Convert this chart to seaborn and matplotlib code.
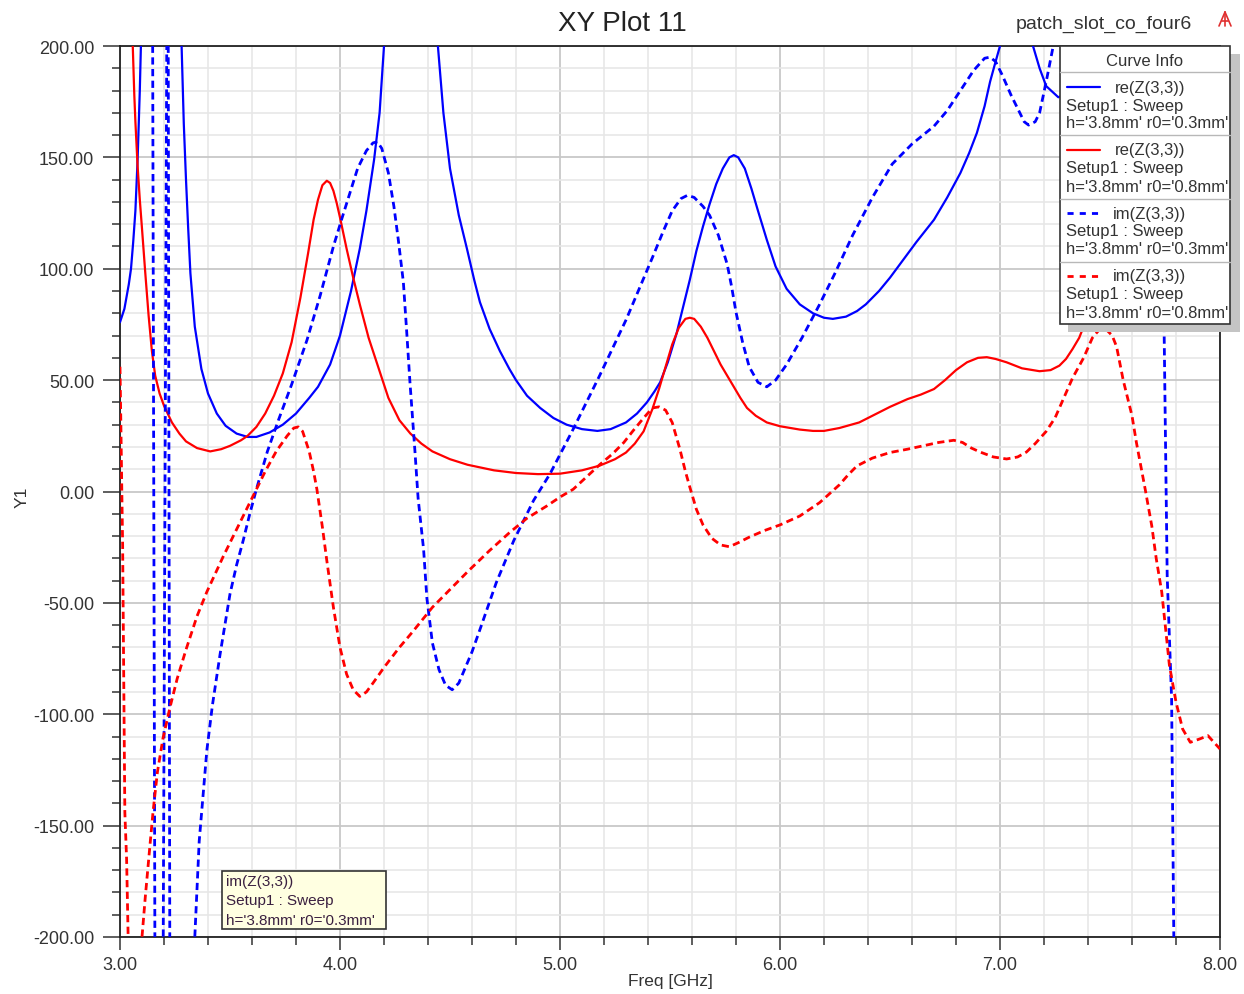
import matplotlib
matplotlib.use("Agg")
import matplotlib.pyplot as plt
from matplotlib.patches import Rectangle
from matplotlib.lines import Line2D
from matplotlib.ticker import MultipleLocator, FuncFormatter
import seaborn as sns
import pandas as pd

# ---- data: Z(3,3) real / imaginary parts vs frequency (GHz) ----
freq_re_03 = [3.00, 3.02, 3.04, 3.05, 3.06, 3.07, 3.08, 3.09, 3.095, 3.11, 3.19, 3.26,
              3.28, 3.29, 3.30, 3.31, 3.32, 3.34, 3.37, 3.40, 3.44, 3.48, 3.53, 3.58,
              3.62, 3.68, 3.74, 3.80, 3.86, 3.90, 3.955, 4.00, 4.05, 4.09, 4.12, 4.155,
              4.18, 4.20, 4.22, 4.30, 4.38, 4.42, 4.445, 4.47, 4.50, 4.54, 4.577, 4.61,
              4.636, 4.68, 4.727, 4.77, 4.80, 4.85, 4.91, 4.97, 5.03, 5.10, 5.17, 5.23,
              5.30, 5.35, 5.395, 5.43, 5.455, 5.49, 5.53, 5.56, 5.59, 5.62, 5.65, 5.68,
              5.71, 5.74, 5.77, 5.79, 5.81, 5.84, 5.87, 5.90, 5.94, 5.98, 6.03, 6.09,
              6.15, 6.20, 6.24, 6.30, 6.35, 6.39, 6.45, 6.50, 6.545, 6.62, 6.70, 6.76,
              6.82, 6.86, 6.895, 6.93, 6.955, 6.98, 7.00, 7.04, 7.11, 7.15, 7.18, 7.21,
              7.265, 7.35, 7.45, 7.60, 7.80, 8.00]
re_03 = [76, 82, 93, 100, 112, 126, 149, 180, 200, 260, 320, 260,
         200, 165, 140, 118, 98, 74, 55, 44, 35, 29.5, 26, 24.5,
         24.5, 26.5, 30, 35, 42, 47, 57, 70, 90, 109, 126, 149,
         170, 200, 260, 400, 400, 260, 200, 170, 145, 124, 109, 95,
         85, 73, 63, 55, 50, 43, 37.5, 33, 30, 28, 27.2, 28,
         31, 35, 40, 45, 49, 58, 71, 83, 95, 108, 119, 129,
         138, 145, 150, 151, 150, 145, 136, 126, 113, 101, 91, 84,
         80, 78, 77.5, 78.5, 81, 84, 90, 96, 102, 112, 122, 132,
         143, 152, 161, 173, 184, 193, 200, 240, 240, 200, 190, 182,
         177, 180, 200, 260, 350, 320]

freq_re_08 = [3.00, 3.058, 3.065, 3.07, 3.08, 3.09, 3.10, 3.115, 3.13, 3.145, 3.16, 3.18,
              3.20, 3.236, 3.27, 3.30, 3.35, 3.41, 3.46, 3.50, 3.55, 3.58, 3.62, 3.66,
              3.70, 3.74, 3.78, 3.82, 3.855, 3.88, 3.90, 3.92, 3.94, 3.955, 3.97, 3.985,
              4.00, 4.03, 4.06, 4.09, 4.13, 4.18, 4.22, 4.27, 4.32, 4.37, 4.42, 4.50,
              4.58, 4.70, 4.80, 4.90, 5.00, 5.10, 5.18, 5.25, 5.30, 5.34, 5.38, 5.42,
              5.45, 5.48, 5.51, 5.54, 5.57, 5.59, 5.61, 5.64, 5.67, 5.70, 5.73, 5.76,
              5.79, 5.82, 5.85, 5.89, 5.94, 6.00, 6.09, 6.15, 6.20, 6.27, 6.36, 6.42,
              6.50, 6.58, 6.64, 6.70, 6.75, 6.80, 6.85, 6.90, 6.94, 6.98, 7.03, 7.10,
              7.18, 7.23, 7.27, 7.30, 7.33, 7.36, 7.38, 7.45, 7.55, 7.65, 7.80, 8.00]
re_08 = [450, 200, 178, 166, 146, 131, 118, 98, 79, 63, 52, 44,
         38.5, 31, 26, 22.5, 19.5, 18, 19, 20.5, 23, 25, 29, 35,
         43, 53, 67, 87, 107, 122, 131, 137.5, 139.5, 138.5, 135, 129.5,
         123, 109, 96, 84, 69, 54, 42, 32, 26, 21.5, 18, 14.5,
         12, 9.5, 8.3, 7.8, 8, 9.5, 11.6, 14.5, 17.5, 21.5, 27, 37,
         46, 56, 66, 73.5, 77.5, 78, 77.5, 74, 69, 63, 57, 52,
         47, 42, 37.5, 34, 31, 29.3, 27.8, 27.2, 27.2, 28.5, 31, 34,
         38, 41.5, 43.5, 46, 50, 54.5, 58, 60, 60.3, 59.5, 58, 55.3,
         54, 54.5, 56.5, 59.5, 64, 69, 74, 110, 170, 260, 400, 300]

freq_im_03 = [3.00, 3.146, 3.161, 3.1925, 3.2165, 3.2175, 3.228, 3.31, 3.34, 3.36, 3.395,
              3.42, 3.455, 3.50, 3.53, 3.56, 3.59, 3.62, 3.67, 3.72, 3.78, 3.85, 3.91,
              3.97, 4.01, 4.045, 4.08, 4.12, 4.15, 4.17, 4.19, 4.22, 4.245, 4.265, 4.288,
              4.303, 4.318, 4.34, 4.355, 4.38, 4.395, 4.42, 4.45, 4.48, 4.51, 4.54, 4.57,
              4.60, 4.636, 4.71, 4.79, 4.88, 4.955, 5.06, 5.18, 5.30, 5.36, 5.42, 5.47,
              5.51, 5.55, 5.58, 5.61, 5.65, 5.68, 5.72, 5.76, 5.78, 5.80, 5.83, 5.86,
              5.90, 5.94, 5.98, 6.03, 6.10, 6.18, 6.25, 6.33, 6.42, 6.51, 6.60, 6.70,
              6.76, 6.82, 6.88, 6.93, 6.955, 6.98, 7.01, 7.05, 7.08, 7.11, 7.13, 7.16,
              7.18, 7.21, 7.24, 7.30, 7.50, 7.70, 7.745, 7.76, 7.78, 7.79, 7.81, 8.00]
im_03 = [300, 300, -300, -300, 300, 300, -300, -300, -200, -157, -116,
         -96, -73, -46, -33, -22, -10, 1, 18, 32, 48, 68, 88,
         110, 123, 134, 145, 153, 156.5, 157, 154, 143, 128, 113, 94,
         72, 49, 19, -3, -26, -48, -68, -80, -87, -89, -86, -79,
         -72, -62, -41, -22, -4, 8, 28, 52, 77, 91, 105, 117,
         126, 131.5, 133, 132, 128, 124, 115, 102, 92, 80.5, 67, 56,
         49, 47, 50, 57, 69, 84, 98, 115, 132, 147, 156, 164,
         171, 180, 189, 194.5, 195, 193, 187, 178, 172, 166, 164.5, 166,
         170, 184, 199, 260, 320, 200, 80, -38, -93, -200, -300, -300]

freq_im_08 = [3.00, 3.004, 3.008, 3.012, 3.022, 3.03, 3.037, 3.06, 3.09, 3.10, 3.115, 3.136,
              3.15, 3.17, 3.195, 3.227, 3.26, 3.30, 3.35, 3.395, 3.47, 3.545, 3.58, 3.62,
              3.66, 3.71, 3.76, 3.79, 3.81, 3.83, 3.86, 3.88, 3.895, 3.92, 3.94, 3.97,
              4.00, 4.03, 4.06, 4.09, 4.12, 4.15, 4.20, 4.27, 4.33, 4.42, 4.50, 4.58,
              4.68, 4.77, 4.85, 4.94, 5.00, 5.06, 5.12, 5.18, 5.24, 5.29, 5.33, 5.38,
              5.42, 5.45, 5.48, 5.51, 5.545, 5.57, 5.59, 5.62, 5.65, 5.69, 5.73, 5.77,
              5.81, 5.86, 5.93, 6.00, 6.09, 6.18, 6.27, 6.31, 6.35, 6.42, 6.50, 6.58,
              6.65, 6.72, 6.79, 6.83, 6.87, 6.91, 6.97, 7.03, 7.08, 7.12, 7.16, 7.21,
              7.25, 7.29, 7.33, 7.38, 7.42, 7.45, 7.48, 7.51, 7.53, 7.56, 7.60, 7.62,
              7.66, 7.69, 7.71, 7.735, 7.75, 7.77, 7.80, 7.83, 7.865, 7.91, 7.945, 8.00]
im_08 = [56, 30, 2, -24, -144, -165, -200, -260, -260, -200, -182, -159,
         -144, -126, -111, -97, -84, -71, -56, -45, -29, -14, -7, 1,
         9, 18, 25, 28.5, 29, 27, 18, 9, 1, -16, -31, -52,
         -70, -82, -89, -92, -90, -86, -79, -70, -63, -52, -44, -36,
         -26.5, -18.5, -12, -6.5, -2.5, 1, 6.5, 12, 17, 22, 27, 33,
         37.5, 38, 36.5, 31, 19, 9, 2, -8, -15, -21, -24, -24.8,
         -23, -20.5, -17.5, -15, -11, -5, 3, 7.5, 11.5, 15, 17.5, 19,
         20.5, 22, 23, 22, 19.5, 17.7, 15.5, 14.6, 15.5, 17.7, 21.5, 27,
         33, 42, 51, 60, 69, 72.5, 73, 70, 65, 50, 34, 22,
         1, -15.5, -30, -45, -59, -78, -94.5, -106.6, -112.6, -111, -109.6, -115.6]

series_names = ["re(Z(3,3))", "re(Z(3,3))", "im(Z(3,3))", "im(Z(3,3))"]
series_setup = "Setup1 : Sweep"
series_params = ["h='3.8mm' r0='0.3mm'", "h='3.8mm' r0='0.8mm'",
                 "h='3.8mm' r0='0.3mm'", "h='3.8mm' r0='0.8mm'"]
x_ticks = [3, 4, 5, 6, 7, 8]
y_ticks = [-200, -150, -100, -50, 0, 50, 100, 150, 200]

BLUE = "#0000ff"
RED = "#ff0000"
DASH = (0, (2.6, 1.6))

sns.set_style("white")
plt.rcParams["font.family"] = ["Liberation Sans", "DejaVu Sans"]

W, H = 1244, 995
fig = plt.figure(figsize=(W / 100, H / 100), dpi=100)
fig.patch.set_facecolor("white")


def fx(px):
    return px / W


def fy(py):
    return 1 - py / H


ax = fig.add_axes([fx(120), fy(938), fx(1220) - fx(120), fy(47) - fy(938)])

curves = [
    (freq_re_03, re_03, BLUE, "-", 1.6),
    (freq_re_08, re_08, RED, "-", 1.6),
    (freq_im_03, im_03, BLUE, DASH, 2.0),
    (freq_im_08, im_08, RED, DASH, 2.0),
]
for xs, ys, col, ls, lw in curves:
    df = pd.DataFrame({"freq": xs, "val": ys})
    sns.lineplot(data=df, x="freq", y="val", ax=ax, color=col, lw=lw,
                 estimator=None, sort=False, legend=False)
    ax.lines[-1].set_linestyle(ls)
    ax.lines[-1].set_zorder(3)
    ax.lines[-1].set_solid_joinstyle("round")
    ax.lines[-1].set_dash_joinstyle("round")

ax.set_xlim(3, 8)
ax.set_ylim(-200, 200)
ax.set_xticks(x_ticks)
ax.set_yticks(y_ticks)
ax.xaxis.set_minor_locator(MultipleLocator(0.2))
ax.yaxis.set_minor_locator(MultipleLocator(10))
fmt = FuncFormatter(lambda v, p: f"{v:.2f}".replace("\u2212", "-"))
ax.xaxis.set_major_formatter(fmt)
ax.yaxis.set_major_formatter(fmt)
ax.grid(which="major", color="#c8c8c8", lw=1.3, zorder=0)
ax.grid(which="minor", color="#e6e6e6", lw=1.1, zorder=0)
ax.set_axisbelow(True)
ax.tick_params(axis="both", which="both", direction="out", color="#333333",
               width=1.1, labelsize=13, labelcolor="#333333")
ax.tick_params(axis="y", which="major", length=12, pad=6.5, left=True)
ax.tick_params(axis="x", which="major", length=9, pad=5, bottom=True)
ax.tick_params(axis="both", which="minor", length=6, left=True, bottom=True)
for s in ax.spines.values():
    s.set_color("#222222")
    s.set_linewidth(1.3)
ax.set_xlabel("")
ax.set_ylabel("")

# titles and axis labels
fig.text(fx(622), fy(24), "XY Plot 11", ha="center", va="center", fontsize=20, color="#222222")
fig.text(fx(1192), fy(24), "patch_slot_co_four6", ha="right", va="center", fontsize=14,
         color="#333333")
fig.text(fx(670), fy(982), "Freq [GHz]", ha="center", va="center", fontsize=12.5, color="#333333")
fig.text(fx(22), fy(497), "Y1", ha="center", va="center", rotation=90, fontsize=12.5,
         color="#333333")

# small logo mark in the corner
for seg in [((1219, 27), (1225, 13)), ((1225, 13), (1231, 27)),
            ((1222, 22), (1228, 22)), ((1225, 13), (1225, 27))]:
    fig.add_artist(Line2D([fx(seg[0][0]), fx(seg[1][0])], [fy(seg[0][1]), fy(seg[1][1])],
                          color="#e03030", lw=1.2))

# curve info box
L, T, R, B = 1060, 47, 1230, 325
fig.add_artist(Rectangle((fx(L + 8), fy(B + 8)), fx(R + 10) - fx(L + 8), fy(T + 8) - fy(B + 8),
                         facecolor="#c4c4c4", edgecolor="none", zorder=4))
fig.add_artist(Rectangle((fx(L), fy(B)), fx(R) - fx(L), fy(T) - fy(B),
                         facecolor="white", edgecolor="#333333", lw=1.2, zorder=5))
fig.text(fx(1145), fy(61), "Curve Info", ha="center", va="center", fontsize=12,
         color="#333333", zorder=6)
for sep in [73, 136, 200, 263]:
    fig.add_artist(Line2D([fx(L), fx(R)], [fy(sep), fy(sep)], color="#b8b8b8", lw=1.0, zorder=6))
row0 = [88, 151, 214, 277]
for i, (xs, ys, col, ls, lw) in enumerate(curves):
    y0 = row0[i]
    sample_ls = "-" if ls == "-" else (0, (2.2, 2.2))
    fig.add_artist(Line2D([fx(1067), fx(1100)], [fy(y0), fy(y0)], color=col, lw=lw,
                          ls=sample_ls, zorder=7))
    fig.text(fx(1150), fy(y0), series_names[i], ha="center", va="center", fontsize=12,
             color="#333333", zorder=7)
    fig.text(fx(1066), fy(y0 + 18), series_setup, ha="left", va="center", fontsize=12,
             color="#333333", zorder=7)
    fig.text(fx(1066), fy(y0 + 36), series_params[i], ha="left", va="center", fontsize=12,
             color="#333333", zorder=7)

# marker info box
fig.add_artist(Rectangle((fx(222), fy(930)), fx(386) - fx(222), fy(872) - fy(930),
                         facecolor="#ffffe1", edgecolor="#333333", lw=1.2, zorder=5))
for j, txt in enumerate([series_names[2], series_setup, series_params[2]]):
    fig.text(fx(226), fy(882 + j * 19.5), txt, ha="left", va="center", fontsize=11,
             color="#3a2040", zorder=6)

fig.savefig("out.png", dpi=100, facecolor="white")
